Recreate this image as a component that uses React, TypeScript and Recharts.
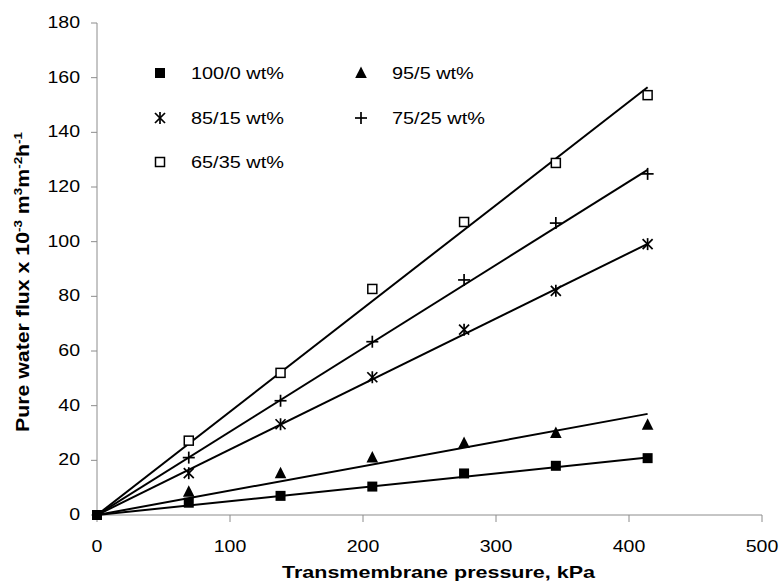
import React from 'react';
import { ScatterChart, Scatter, XAxis, YAxis } from 'recharts';

// ---- data ----
const pressures = [0, 69, 138, 207, 276, 345, 414];
const flux100_0 = [0, 4.5, 7, 10.4, 15.2, 18, 20.8];
const flux95_5 = [null, 8.5, 15.3, 21, 26.3, 30, 33];
const flux85_15 = [null, 15.3, 33.2, 50.4, 67.8, 82, 99.1];
const flux75_25 = [null, 21, 41.8, 63.4, 86, 106.8, 124.8];
const flux65_35 = [null, 27.2, 52, 82.7, 107.2, 128.8, 153.6];

const fitX = [0, 414];
const fit100_0 = [0, 21];
const fit95_5 = [0, 37];
const fit85_15 = [0, 99.2];
const fit75_25 = [0, 126.3];
const fit65_35 = [0, 156.5];

const xTicks = [0, 100, 200, 300, 400, 500];
const yTicks = [0, 20, 40, 60, 80, 100, 120, 140, 160, 180];

const legendLabels = ['100/0 wt%', '95/5 wt%', '85/15 wt%', '75/25 wt%', '65/35 wt%'];

// ---- helpers ----
const toPoints = (xs: number[], ys: (number | null)[]) =>
  xs.map((x, i) => ({ x, y: ys[i] })).filter((p) => p.y !== null && p.y !== undefined);

const FONT = '"Liberation Sans", Arial, sans-serif';
const AXIS_GRAY = '#8c8c8c';

type ShapeKind = 'square' | 'triangle' | 'star' | 'plus' | 'open';

const Marker = ({ kind, cx, cy }: { kind: ShapeKind; cx: number; cy: number }) => {
  switch (kind) {
    case 'square':
      return <rect x={cx - 5} y={cy - 5} width={10} height={10} fill="#000" />;
    case 'triangle':
      return <path d={`M${cx},${cy - 6.5} L${cx + 5.8},${cy + 5} L${cx - 5.8},${cy + 5} Z`} fill="#000" />;
    case 'star':
      return (
        <g stroke="#000" strokeWidth={1.7} fill="none">
          <line x1={cx} y1={cy - 6} x2={cx} y2={cy + 6} />
          <line x1={cx - 5} y1={cy - 5} x2={cx + 5} y2={cy + 5} />
          <line x1={cx + 5} y1={cy - 5} x2={cx - 5} y2={cy + 5} />
        </g>
      );
    case 'plus':
      return (
        <g stroke="#000" strokeWidth={1.7} fill="none">
          <line x1={cx - 6} y1={cy} x2={cx + 6} y2={cy} />
          <line x1={cx} y1={cy - 6} x2={cx} y2={cy + 6} />
        </g>
      );
    case 'open':
      return <rect x={cx - 4.5} y={cy - 4.5} width={9} height={9} fill="#fff" stroke="#000" strokeWidth={1.5} />;
  }
  return <g />;
};

const shapeFor = (kind: ShapeKind) => (props: any) =>
  props.cx == null || props.cy == null ? <g /> : <Marker kind={kind} cx={props.cx} cy={props.cy} />;

const noShape = () => <g />;

const YTick = (props: any) => {
  const { x, y, payload } = props;
  return (
    <g transform={`translate(${x},${y})`}>
      <text transform="scale(1.15,1)" textAnchor="end" dy={5} fontSize={17} fontFamily={FONT} fill="#000">
        {payload.value}
      </text>
    </g>
  );
};

const XTick = (props: any) => {
  const { x, y, payload } = props;
  return (
    <g transform={`translate(${x},${y})`}>
      <text transform="scale(1.15,1)" textAnchor="middle" dy={30} fontSize={17} fontFamily={FONT} fill="#000">
        {payload.value}
      </text>
    </g>
  );
};

const XTitle = (props: any) => {
  const vb = props.viewBox || { x: 97, y: 515, width: 665, height: 60 };
  const cx = vb.x + vb.width / 2 + 9;
  const cy = vb.y + 63;
  return (
    <text
      x={cx}
      y={cy}
      textAnchor="middle"
      fontSize={17}
      fontWeight="bold"
      fontFamily={FONT}
      fill="#000"
      textLength={313}
      lengthAdjust="spacingAndGlyphs"
    >
      Transmembrane pressure, kPa
    </text>
  );
};

const YTitle = (props: any) => {
  const vb = props.viewBox || { x: 0, y: 23, width: 97, height: 492 };
  const cx = 29;
  const cy = vb.y + vb.height / 2 + 13;
  return (
    <text
      transform={`translate(${cx},${cy}) rotate(-90)`}
      textAnchor="middle"
      fontSize={17.5}
      fontWeight="bold"
      fontFamily={FONT}
      fill="#000"
      textLength={300}
      lengthAdjust="spacingAndGlyphs"
    >
      Pure water flux x 10
      <tspan fontSize={11} dy={-7}>-3</tspan>
      <tspan dy={7}> m</tspan>
      <tspan fontSize={11} dy={-7}>3</tspan>
      <tspan dy={7}>m</tspan>
      <tspan fontSize={11} dy={-7}>-2</tspan>
      <tspan dy={7}>h</tspan>
      <tspan fontSize={11} dy={-7}>-1</tspan>
    </text>
  );
};

const legendItems: { kind: ShapeKind; label: string; col: number; row: number }[] = [
  { kind: 'square', label: legendLabels[0], col: 0, row: 0 },
  { kind: 'triangle', label: legendLabels[1], col: 1, row: 0 },
  { kind: 'star', label: legendLabels[2], col: 0, row: 1 },
  { kind: 'plus', label: legendLabels[3], col: 1, row: 1 },
  { kind: 'open', label: legendLabels[4], col: 0, row: 2 },
];

const LegendOverlay = () => (
  <svg
    width={779}
    height={584}
    style={{ position: 'absolute', left: 0, top: 0, pointerEvents: 'none' }}
  >
    {legendItems.map((it, i) => {
      const mx = it.col === 0 ? 160 : 361;
      const my = [73, 118, 162][it.row];
      return (
        <g key={i}>
          <Marker kind={it.kind} cx={mx} cy={my} />
          <g transform={`translate(${mx + 31},${my + 6})`}>
            <text transform="scale(1.17,1)" fontSize={17} fontFamily={FONT} fill="#000">
              {it.label}
            </text>
          </g>
        </g>
      );
    })}
  </svg>
);

export default function App() {
  return (
    <div style={{ position: 'absolute', left: 0, top: 0, width: 779, height: 584, background: '#fff' }}>
      <ScatterChart width={779} height={584} margin={{ top: 23, right: 17, bottom: 9, left: 0 }}>
        <XAxis
          type="number"
          dataKey="x"
          domain={[0, 500]}
          ticks={xTicks}
          interval={0}
          height={60}
          stroke={AXIS_GRAY}
          tickSize={7}
          tickMargin={0}
          tick={<XTick />}
          tickLine={{ stroke: AXIS_GRAY }}
          axisLine={{ stroke: AXIS_GRAY }}
          label={{ content: <XTitle /> }}
        />
        <YAxis
          type="number"
          dataKey="y"
          domain={[0, 180]}
          ticks={yTicks}
          interval={0}
          width={97}
          stroke={AXIS_GRAY}
          tickSize={6}
          tickMargin={11}
          tick={<YTick />}
          tickLine={{ stroke: AXIS_GRAY }}
          axisLine={{ stroke: AXIS_GRAY }}
          label={{ content: <YTitle /> }}
        />
        <Scatter data={toPoints(fitX, fit65_35)} line={{ stroke: '#000', strokeWidth: 2 }} shape={noShape} isAnimationActive={false} />
        <Scatter data={toPoints(fitX, fit75_25)} line={{ stroke: '#000', strokeWidth: 2 }} shape={noShape} isAnimationActive={false} />
        <Scatter data={toPoints(fitX, fit85_15)} line={{ stroke: '#000', strokeWidth: 2 }} shape={noShape} isAnimationActive={false} />
        <Scatter data={toPoints(fitX, fit95_5)} line={{ stroke: '#000', strokeWidth: 2 }} shape={noShape} isAnimationActive={false} />
        <Scatter data={toPoints(fitX, fit100_0)} line={{ stroke: '#000', strokeWidth: 2 }} shape={noShape} isAnimationActive={false} />

        <Scatter name={legendLabels[4]} data={toPoints(pressures, flux65_35)} shape={shapeFor('open')} isAnimationActive={false} />
        <Scatter name={legendLabels[3]} data={toPoints(pressures, flux75_25)} shape={shapeFor('plus')} isAnimationActive={false} />
        <Scatter name={legendLabels[2]} data={toPoints(pressures, flux85_15)} shape={shapeFor('star')} isAnimationActive={false} />
        <Scatter name={legendLabels[1]} data={toPoints(pressures, flux95_5)} shape={shapeFor('triangle')} isAnimationActive={false} />
        <Scatter name={legendLabels[0]} data={toPoints(pressures, flux100_0)} shape={shapeFor('square')} isAnimationActive={false} />
      </ScatterChart>
      <LegendOverlay />
    </div>
  );
}
